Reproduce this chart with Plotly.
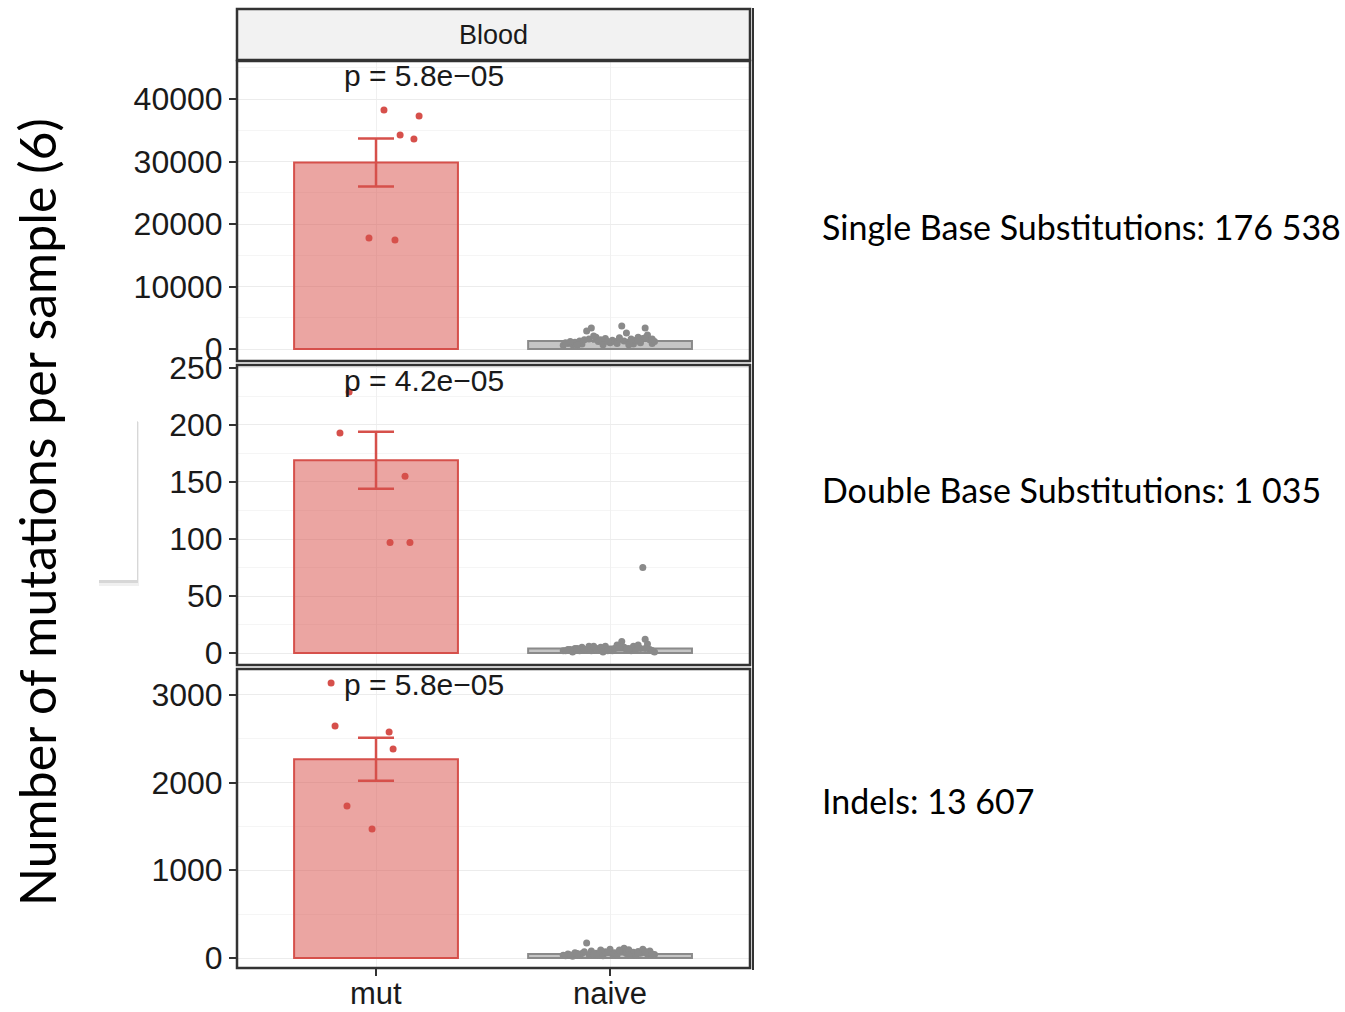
import plotly.graph_objects as go

W, H = 1345, 1012

# ---------------- data ----------------
categories = ["mut", "naive"]
panel_names = ["Single Base Substitutions", "Double Base Substitutions", "Indels"]
panel_totals = ["176 538", "1 035", "13 607"]
p_values = ["p = 5.8e\u221205", "p = 4.2e\u221205", "p = 5.8e\u221205"]

# bar heights (means) and standard errors
mut_means = [29850, 169, 2265]
mut_se = [3850, 25, 245]
naive_means = [1280, 4, 45]
naive_se = [130, 1.8, 5]

# mut sample values and horizontal jitter
sbs_mut = [38240, 37280, 34240, 33600, 17760, 17440]
sbs_mut_jit = [0.034, 0.184, 0.103, 0.162, -0.030, 0.081]
dbs_mut = [229, 193, 155, 97, 97]
dbs_mut_jit = [-0.115, -0.154, 0.124, 0.060, 0.145]
ind_mut = [3136, 2577, 2383, 2645, 1733, 1471]
ind_mut_jit = [-0.192, 0.056, 0.073, -0.175, -0.124, -0.017]

# naive sample values and horizontal jitter
naive_jit = [-0.20, -0.18, -0.16, -0.15, -0.13, -0.12, -0.10, -0.09, -0.08, -0.06, -0.05,
             -0.04, -0.03, -0.02, 0.00, 0.01, 0.02, 0.03, 0.05, 0.06, 0.07, 0.08, 0.09,
             0.10, 0.11, 0.12, 0.13, 0.14, 0.15, 0.16, 0.17, 0.18, 0.19, -0.19, -0.14,
             -0.11, -0.07, -0.01, 0.04, 0.08, 0.12, 0.15, 0.18, -0.17]
sbs_naive = [600, 900, 700, 1100, 1300, 800, 2880, 1600, 3360, 1900, 1200, 1500, 700, 1700,
             1000, 1400, 1200, 900, 3680, 1300, 2560, 1100, 1600, 800, 1400, 1900, 1000, 1700,
             3360, 2240, 1500, 900, 1200, 1000, 600, 1500, 2100, 1200, 1800, 700, 1300, 1800,
             1600, 1200]
dbs_naive = [2, 3, 1, 4, 2, 5, 3, 6, 2, 4, 3, 5, 1, 6, 3, 2, 4, 7, 10, 5, 3, 4, 2, 6, 3, 5,
             4, 75, 12, 8, 3, 2, 1, 2, 4, 3, 6, 2, 5, 3, 7, 4, 2, 3]
ind_naive = [30, 45, 20, 60, 35, 50, 170, 40, 80, 55, 30, 90, 25, 70, 100, 45, 60, 35, 85,
             110, 50, 95, 40, 65, 30, 75, 55, 100, 60, 45, 80, 35, 40, 25, 50, 70, 40, 60,
             90, 30, 55, 75, 45, 35]

mut_vals = [sbs_mut, dbs_mut, ind_mut]
mut_jits = [sbs_mut_jit, dbs_mut_jit, ind_mut_jit]
naive_vals = [sbs_naive, dbs_naive, ind_naive]

y_ranges = [[-1920, 46080], [-10.5, 252.6], [-114, 3295]]
y_dticks = [10000, 50, 1000]
p_y = [43700, 238.6, 3113]

# ---------------- styles ----------------
RED_FILL = "rgba(215,75,70,0.5)"
RED = "#D6504B"
GRAY_FILL = "rgba(140,140,140,0.5)"
GRAY = "#8A8A8A"
BORDER = "#333333"
FONT = "Liberation Sans, Arial, sans-serif"

def px(x):
    return x / W

def py(y):
    return 1 - y / H

panel_px = [(61, 361), (365, 665), (669, 968)]
x_left, x_right = 237, 750

fig = go.Figure()

for i in range(3):
    xa = "x" if i == 0 else f"x{i+1}"
    ya = "y" if i == 0 else f"y{i+1}"
    fig.add_trace(go.Bar(
        x=[0], y=[mut_means[i]], width=0.7, xaxis=xa, yaxis=ya,
        marker=dict(color=RED_FILL, line=dict(color=RED, width=2)),
        error_y=dict(type="data", array=[mut_se[i]], color=RED, thickness=2.5, width=18),
        showlegend=False, hoverinfo="skip"))
    fig.add_trace(go.Bar(
        x=[1], y=[naive_means[i]], width=0.7, xaxis=xa, yaxis=ya,
        marker=dict(color=GRAY_FILL, line=dict(color=GRAY, width=2)),
        error_y=dict(type="data", array=[naive_se[i]], color=GRAY, thickness=2, width=18),
        showlegend=False, hoverinfo="skip"))
    fig.add_trace(go.Scatter(
        x=[0 + j for j in mut_jits[i]], y=mut_vals[i], mode="markers", xaxis=xa, yaxis=ya,
        marker=dict(color=RED, size=7), showlegend=False, hoverinfo="skip"))
    fig.add_trace(go.Scatter(
        x=[1 + j for j in naive_jit], y=naive_vals[i], mode="markers", xaxis=xa, yaxis=ya,
        marker=dict(color=GRAY, size=7), showlegend=False, hoverinfo="skip"))

layout = dict(
    width=W, height=H, margin=dict(l=0, r=0, t=0, b=0, pad=0, autoexpand=False),
    autosize=False,
    paper_bgcolor="white", plot_bgcolor="white", showlegend=False,
    barmode="overlay", font=dict(family=FONT, color="#1a1a1a"),
)

for i in range(3):
    top, bot = panel_px[i]
    xkey = "xaxis" if i == 0 else f"xaxis{i+1}"
    ykey = "yaxis" if i == 0 else f"yaxis{i+1}"
    ya = "y" if i == 0 else f"y{i+1}"
    xa = "x" if i == 0 else f"x{i+1}"
    last = (i == 2)
    layout[xkey] = dict(
        domain=[px(x_left), px(x_right)], anchor=ya, range=[-0.594, 1.598],
        tickmode="array", tickvals=[0, 1], ticktext=categories,
        showticklabels=False, ticks="outside" if last else "", ticklen=7, tickwidth=2,
        tickcolor=BORDER,
        showgrid=True, gridcolor="#f0f0f0", gridwidth=1, zeroline=False, showline=False,
        fixedrange=True, automargin=False)
    layout[ykey] = dict(
        domain=[py(bot), py(top)], anchor=xa, range=y_ranges[i],
        dtick=y_dticks[i], tick0=0, tickformat="d", ticks="outside", ticklen=7, tickwidth=2,
        tickcolor=BORDER, tickfont=dict(size=32, family=FONT, color="#1a1a1a"),
        showgrid=True, gridcolor="#ececec", gridwidth=1,
        minor=dict(dtick=y_dticks[i] / 2, showgrid=True, gridcolor="#f5f5f5", gridwidth=1),
        zeroline=False, showline=False, fixedrange=True, automargin=False)

fig.update_layout(**layout)

shapes = []
for top, bot in panel_px:
    shapes.append(dict(type="rect", xref="paper", yref="paper",
                       x0=px(x_left), x1=px(x_right), y0=py(bot), y1=py(top),
                       line=dict(color=BORDER, width=2.5), fillcolor="rgba(0,0,0,0)", layer="above"))
shapes.append(dict(type="rect", xref="paper", yref="paper",
                   x0=px(x_left), x1=px(x_right), y0=py(60), y1=py(9),
                   line=dict(color=BORDER, width=2.5), fillcolor="#f2f2f2", layer="below"))
shapes.append(dict(type="line", xref="paper", yref="paper",
                   x0=px(753), x1=px(753), y0=py(970), y1=py(8),
                   line=dict(color=BORDER, width=2)))
# white box with soft shadow
shapes.append(dict(type="rect", xref="paper", yref="paper",
                   x0=px(99), x1=px(139), y0=py(586), y1=py(422),
                   line=dict(width=0), fillcolor="rgba(0,0,0,0.06)"))
shapes.append(dict(type="rect", xref="paper", yref="paper",
                   x0=px(99), x1=px(138), y0=py(583), y1=py(421),
                   line=dict(width=0), fillcolor="rgba(0,0,0,0.10)"))
shapes.append(dict(type="rect", xref="paper", yref="paper",
                   x0=px(99), x1=px(137), y0=py(580), y1=py(420),
                   line=dict(width=0), fillcolor="white"))

annotations = []
annotations.append(dict(text="Blood", xref="paper", yref="paper",
                        x=px((x_left + x_right) / 2), y=py(35), showarrow=False,
                        font=dict(size=27, family=FONT, color="#1a1a1a"),
                        xanchor="center", yanchor="middle"))
for i in range(3):
    xa = "x" if i == 0 else f"x{i+1}"
    ya = "y" if i == 0 else f"y{i+1}"
    annotations.append(dict(text=p_values[i], xref=xa, yref=ya, x=-0.145, y=p_y[i],
                            showarrow=False, xanchor="left", yanchor="middle",
                            font=dict(size=30, family=FONT, color="#1a1a1a")))
# category labels under bottom panel
for k, cat in enumerate(categories):
    annotations.append(dict(text=cat, xref="x3", yref="paper", x=k, y=py(993),
                            showarrow=False, xanchor="center", yanchor="middle",
                            font=dict(size=31, family=FONT, color="#1a1a1a")))
label_y = [226, 489, 800]
for i in range(3):
    annotations.append(dict(text=f"{panel_names[i]}: {panel_totals[i]}", xref="paper", yref="paper",
                            x=px(820), y=py(label_y[i]), showarrow=False,
                            xanchor="left", yanchor="middle",
                            font=dict(size=34, family="Lato, sans-serif", color="black")))
annotations.append(dict(text="Number of mutations per sample (6)", xref="paper", yref="paper",
                        x=px(37), y=py(512), showarrow=False, textangle=-90,
                        xanchor="center", yanchor="middle",
                        font=dict(size=50, family="Lato, sans-serif", color="black")))

fig.update_layout(shapes=shapes, annotations=annotations)

fig.write_html("out.html")
